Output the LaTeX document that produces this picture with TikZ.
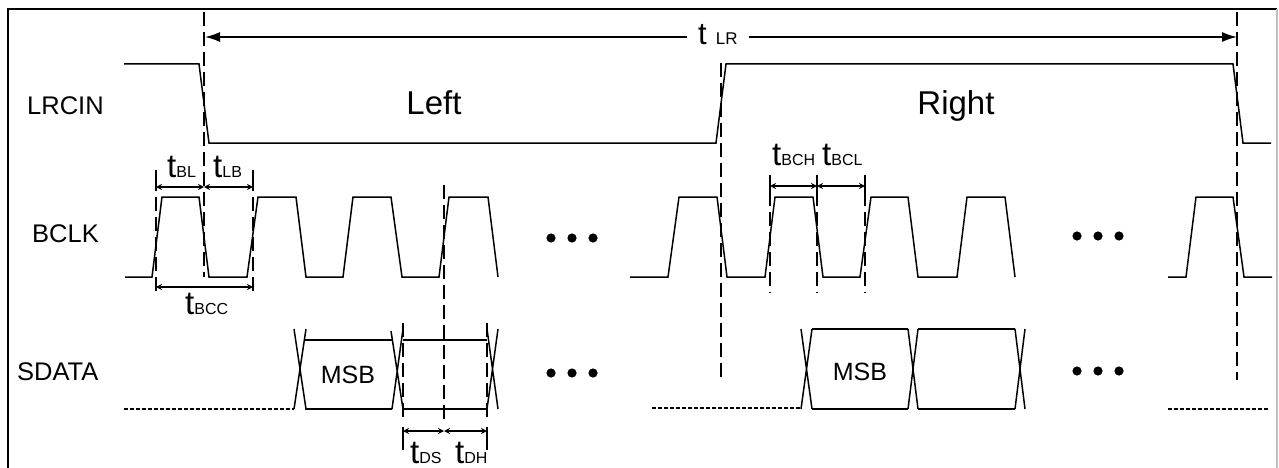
\documentclass[tikz,border=0pt]{standalone}
\usepackage{fontspec}
\setmainfont{Liberation Sans}
\usetikzlibrary{arrows.meta}
\newcommand{\tsb}[1]{{\fontsize{33}{33}\selectfont t}{\fontsize{16}{16}\selectfont #1}}
\begin{document}
\begin{tikzpicture}[x=1pt,y=-1pt,
  sig/.style={line width=1.5pt, line join=miter},
  guide/.style={line width=2.4pt, dash pattern=on 14pt off 6pt},
  dotline/.style={line width=1.4pt, dash pattern=on 4pt off 2pt},
  tick/.style={line width=1.5pt},
  dimarrow/.style={line width=1.4pt, {Stealth[length=6pt,width=6pt]}-{Stealth[length=6pt,width=6pt]}},
  bigarrow/.style={line width=1.5pt, -{Latex[length=15pt,width=10pt]}},
  lbl/.style={inner sep=0pt, anchor=base west, font=\fontsize{25.5}{25.5}\selectfont},
  big/.style={inner sep=0pt, anchor=base, font=\fontsize{33}{33}\selectfont},
  tl/.style={inner sep=0pt, anchor=base west},
  dot/.style={fill=black, draw=none}]
\useasboundingbox (0,0) rectangle (1279,468);
% frame
\draw[line width=1.5pt] (8,468) -- (8,9) -- (1277,9);
\draw[line width=1.2pt, black!25] (1277,9) -- (1277,468);

% signal labels
\node[lbl] (lrcin) at (27,115) {LRCIN};
\node[lbl] (bclk) at (32,242) {BCLK};
\node[lbl] (sdata) at (17,380) {SDATA};
\node[big] (left) at (434,115) {Left};
\node[big] (right) at (956,115) {Right};

% LRCIN
\draw[sig] (124,64) -- (199,64) -- (209,143) -- (716,143) -- (726,64) -- (1233,64) -- (1243,143) -- (1271,143);

% BCLK
\draw[sig] (125,277) -- (152,277) -- (162,197) -- (199,197) -- (209,277) -- (247,277) -- (258,197) -- (296,197) -- (306,277) -- (343,277) -- (353,197) -- (391,197) -- (402,277) -- (439,277) -- (449,197) -- (488,197) -- (498,277);
\draw[sig] (630,277) -- (668,277) -- (679,197) -- (717,197) -- (727,277) -- (765,277) -- (775,197) -- (813,197) -- (823,277) -- (860,277) -- (871,197) -- (908,197) -- (918,277) -- (957,277) -- (967,197) -- (1005,197) -- (1015,277);
\draw[sig] (1168,277) -- (1186,277) -- (1196,197) -- (1233,197) -- (1244,277) -- (1272,277);

% SDATA left group
\draw[dotline] (124,409) -- (294,409);
\draw[sig] (294,329) -- (306,409) (306,329) -- (294,409);
\draw[sig] (305,340) -- (392,340) (305,409) -- (392,409);
\draw[sig] (391,331) -- (403,409) (403,329) -- (392,409);
\draw[sig] (403,340) -- (487,340) (403,409) -- (487,409);
\draw[sig] (487,329) -- (498,409) (498,329) -- (487,409);
\node[inner sep=0pt, anchor=base, font=\fontsize{25}{25}\selectfont] (msb1) at (348,383) {MSB};

% SDATA right group
\draw[dotline] (652,408) -- (801,408);
\draw[sig] (801,329) -- (812,409) (812,329) -- (801,409);
\draw[sig] (812,329) -- (908,329) (812,409) -- (908,409);
\draw[sig] (908,329) -- (918,409) (918,329) -- (908,409);
\draw[sig] (918,329) -- (1015,329) (918,409) -- (1015,409);
\draw[sig] (1015,329) -- (1025,409) (1025,329) -- (1015,409);
\node[inner sep=0pt, anchor=base, font=\fontsize{25}{25}\selectfont] (msb2) at (860,380) {MSB};
\draw[dotline] (1168,409) -- (1268,409);

% ellipsis dots
\foreach \x in {551,572,593} {\fill[dot] (\x,238) circle (4.6pt); \fill[dot] (\x,373) circle (4.6pt);}
\foreach \x in {1077,1098,1119} {\fill[dot] (\x,236) circle (4.6pt); \fill[dot] (\x,371) circle (4.6pt);}

% long guide lines
\draw[guide] (204,12) -- (204,277);
\draw[guide] (721,63) -- (721,377);
\draw[guide] (1237,12) -- (1237,380);
\draw[guide] (444,185) -- (444,420);

% tLR
\coordinate (lrL) at (205,37);
\coordinate (lrR) at (1237,37);
\node[tl, inner xsep=11pt] (tlr) at (687,45) {{\fontsize{31}{31}\selectfont t}\hspace{9pt}{\fontsize{17}{17}\selectfont LR}};
\draw[bigarrow] (tlr.west |- lrL) -- (lrL);
\draw[bigarrow] (tlr.east |- lrR) -- (lrR);

% tBL / tLB / tBCC
\draw[tick] (156,170) -- (156,191) (253,170) -- (253,191);
\draw[guide] (156,197) -- (156,295);
\draw[guide] (253,197) -- (253,295);
\draw[dimarrow] (156,187) -- (204,187);
\draw[dimarrow] (204,187) -- (253,187);
\draw[dimarrow] (156,287) -- (253,287);
\node[tl] (tbl) at (167,177) {\tsb{BL}};
\node[tl] (tlb) at (213,177) {\tsb{LB}};
\node[tl] (tbcc) at (185,314) {\tsb{BCC}};

% tBCH / tBCL
\draw[tick] (770,175) -- (770,192) (817,175) -- (817,192) (865,175) -- (865,192);
\draw[guide] (770,192) -- (770,293);
\draw[guide] (817,192) -- (817,293);
\draw[guide] (865,192) -- (865,293);
\draw[dimarrow] (770,186) -- (817,186);
\draw[dimarrow] (817,186) -- (865,186);
\node[tl] (tbch) at (772,165) {\tsb{BCH}};
\node[tl] (tbcl) at (822,165) {\tsb{BCL}};

% tDS / tDH
\draw[guide] (403,323) -- (403,422);
\draw[guide] (487,323) -- (487,422);
\draw[tick] (403,427) -- (403,450) (487,427) -- (487,450);
\draw[dimarrow] (403,431) -- (444,431);
\draw[dimarrow] (444,431) -- (487,431);
\node[tl] (tds) at (410,463) {\tsb{DS}};
\node[tl] (tdh) at (455,463) {\tsb{DH}};
\end{tikzpicture}
\end{document}
